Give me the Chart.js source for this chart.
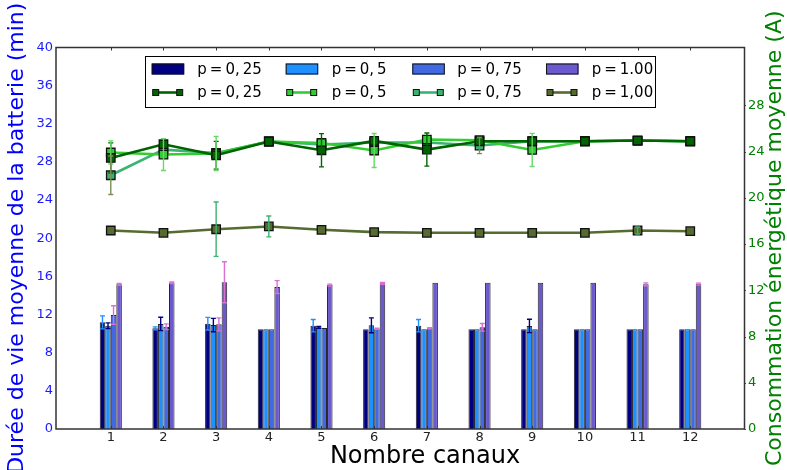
<!DOCTYPE html>
<html>
<head>
<meta charset="utf-8">
<script src="https://cdn.jsdelivr.net/npm/chart.js@4.4.1/dist/chart.umd.min.js"></script>
<style>
html,body{margin:0;padding:0;background:#fff;}
#wrap{width:787px;height:470px;position:relative;}
</style>
</head>
<body>
<div id="wrap"><canvas id="c" width="787" height="470"></canvas></div>
<script>
// ---------- DATA ----------
const canaux = [1,2,3,4,5,6,7,8,9,10,11,12];
const leftTicks = [0,4,8,12,16,20,24,28,32,36,40];
const rightTicks = [0,4,8,12,16,20,24,28];

const barLabels  = ['p\u2009=\u20090,\u200925','p\u2009=\u20090,\u20095','p\u2009=\u20090,\u200975','p\u2009=\u20091.00'];
const lineLabels = ['p\u2009=\u20090,\u200925','p\u2009=\u20090,\u20095','p\u2009=\u20090,\u200975','p\u2009=\u20091,00'];

// Durée de vie moyenne (min) – bars
const duree025 = [11.18,10.56,11.04,10.45,10.83,10.45,10.83,10.45,10.45,10.45,10.45,10.45];
const duree05  = [10.83,11.01,10.90,10.45,10.66,10.87,10.45,10.45,10.80,10.45,10.45,10.45];
const duree075 = [11.95,10.72,10.97,10.45,10.59,10.51,10.56,10.66,10.45,10.45,10.45,10.45];
const duree100 = [15.17,15.34,15.38,14.88,15.09,15.27,15.34,15.34,15.34,15.34,15.17,15.20];
const errDuree025 = [0.68,0.15,0.66,0,0.65,0,0.65,0,0,0,0,0];
const errDuree05  = [0.30,0.70,0.70,0,0.10,0.78,0,0,0.70,0,0,0];
const errDuree075 = [0.98,0.30,0.68,0,0,0.05,0.05,0.40,0,0,0,0];
const errDuree100 = [0.10,0.08,2.15,0.68,0.10,0.10,0,0,0,0,0.15,0.10];

// Consommation énergétique moyenne (A) – lines
const conso025 = [23.45,24.63,23.68,24.87,24.11,24.92,24.17,24.89,24.89,24.89,24.95,24.89];
const conso05  = [23.92,23.74,23.83,24.87,24.74,24.09,25.04,24.98,24.14,24.89,24.95,24.89];
const conso075 = [21.95,24.17,23.88,24.87,24.61,24.78,24.78,24.52,24.89,24.89,24.95,24.89];
const conso100 = [17.17,16.97,17.28,17.52,17.23,17.03,16.97,16.97,16.97,16.97,17.17,17.11];
const errConso025 = [1.30,0.10,1.20,0,1.44,0,1.43,0,0,0,0,0];
const errConso05  = [1.00,1.38,1.47,0,0,1.47,0,0,1.43,0,0,0];
const errConso075 = [1.67,0,0,0,0,0,0,0.70,0,0,0,0];
const errConso100 = [0,0,2.35,0.90,0,0,0,0,0,0,0.30,0];

// ---------- STYLE ----------
const FONT = 'DejaVu Sans';
const barColors  = ['#000080','#1E90FF','#4169E1','#6A5ACD'];
const barErrCols = ['#1E90FF','#000080','#DA70D6','#DA70D6'];
const lineColors = ['#006400','#32CD32','#3CB371','#556B2F'];
const lineErrCols= ['#006400','#66D966','#7A8F5A','#3CB371'];

const pts = arr => canaux.map((x,i)=>({x:x, y:arr[i]}));

const barSeries = [duree025,duree05,duree075,duree100];
const barErrs = [errDuree025,errDuree05,errDuree075,errDuree100];
const lineSeries = [conso025,conso05,conso075,conso100];
const lineErrs = [errConso025,errConso05,errConso075,errConso100];

const datasets = [];
lineSeries.forEach((s,k)=>{
  datasets.push({
    type:'line', label:lineLabels[k], data:pts(s), yAxisID:'y2', xAxisID:'x',
    borderColor:lineColors[k], backgroundColor:lineColors[k], borderWidth:2.6,
    pointStyle:'rect', pointRadius:6, pointBorderColor:'#111', pointBorderWidth:1.3,
    pointBackgroundColor:lineColors[k], tension:0, order:0,
    errors:lineErrs[k], errorColor:lineErrCols[k]
  });
});
barSeries.forEach((s,k)=>{
  datasets.push({
    type:'bar', label:barLabels[k], data:pts(s), yAxisID:'y', xAxisID:'x',
    backgroundColor:barColors[k], borderColor:'rgba(0,0,0,0.85)', borderWidth:1,
    categoryPercentage:0.42, barPercentage:1.0, order:1,
    errors:barErrs[k], errorColor:barErrCols[k]
  });
});

const decorPlugin = {
  id:'decor',
  afterDatasetsDraw(chart){
    const ctx = chart.ctx, ca = chart.chartArea;
    ctx.save();
    ctx.beginPath(); ctx.rect(ca.left, ca.top-2, ca.right-ca.left, ca.bottom-ca.top+2); ctx.clip();
    chart.data.datasets.forEach((ds,i)=>{
      if(!ds.errors) return;
      const meta = chart.getDatasetMeta(i);
      const ys = chart.scales[meta.yAxisID];
      ctx.strokeStyle = ds.errorColor; ctx.lineWidth = 1.4;
      meta.data.forEach((el,j)=>{
        const e = ds.errors[j]; if(!e) return;
        const v = ds.data[j].y;
        const x = el.x, y1 = ys.getPixelForValue(v+e), y2 = ys.getPixelForValue(v-e);
        ctx.beginPath();
        ctx.moveTo(x,y1); ctx.lineTo(x,y2);
        ctx.moveTo(x-2.5,y1); ctx.lineTo(x+2.5,y1);
        ctx.moveTo(x-2.5,y2); ctx.lineTo(x+2.5,y2);
        ctx.stroke();
      });
    });
    ctx.restore();
  },
  afterDraw(chart){
    const ctx = chart.ctx, ca = chart.chartArea;
    const xs = chart.scales.x, y2 = chart.scales.y2;
    ctx.save();
    ctx.strokeStyle = '#333'; ctx.lineWidth = 1;
    canaux.forEach(v=>{
      const px = Math.round(xs.getPixelForValue(v))+0.5;
      ctx.beginPath();
      ctx.moveTo(px, ca.bottom); ctx.lineTo(px, ca.bottom-3);
      ctx.moveTo(px, ca.top); ctx.lineTo(px, ca.top+3);
      ctx.stroke();
    });
    ctx.strokeStyle = '#008000';
    rightTicks.forEach(v=>{
      const py = Math.round(y2.getPixelForValue(v))+0.5;
      ctx.beginPath(); ctx.moveTo(ca.right, py); ctx.lineTo(ca.right+1.5, py); ctx.stroke();
    });
    ctx.strokeStyle = '#333'; ctx.lineWidth = 1.5;
    ctx.strokeRect(ca.left, ca.top, ca.right-ca.left, ca.bottom-ca.top);

    const cy = (ca.top+ca.bottom)/2;
    ctx.textAlign = 'center'; ctx.textBaseline = 'middle';
    ctx.font = '22px "' + FONT + '"';
    ctx.fillStyle = '#0000ff';
    ctx.save(); ctx.translate(17, cy); ctx.rotate(-Math.PI/2);
    ctx.fillText('Durée de vie moyenne de la batterie (min)', 0, 0); ctx.restore();
    ctx.fillStyle = '#008000';
    ctx.save(); ctx.translate(775, cy); ctx.rotate(-Math.PI/2);
    ctx.fillText('Consommation énergétique moyenne (A)', 0, 0); ctx.restore();
    ctx.fillStyle = '#000';
    ctx.font = '24px "' + FONT + '"';
    ctx.fillText('Nombre canaux', 425, 457);

    const L = 145.5, T = 56.5, W = 510, H = 51;
    ctx.fillStyle = '#fff'; ctx.fillRect(L, T, W, H);
    ctx.strokeStyle = '#000'; ctx.lineWidth = 1; ctx.strokeRect(L, T, W, H);
    const patchX = [151.7, 285.7, 412.3, 546];
    const textX  = [197.3, 331.7, 457.3, 591.7];
    const row1 = 69, row2 = 92.5;
    ctx.font = '15px "' + FONT + '"';
    ctx.textAlign = 'left';
    for(let k=0;k<4;k++){
      ctx.fillStyle = barColors[k];
      ctx.fillRect(patchX[k], row1-5.5, 32.5, 11);
      ctx.strokeStyle = '#111'; ctx.lineWidth = 1;
      ctx.strokeRect(patchX[k]+0.5, row1-5.5+0.5, 31.5, 10);
      ctx.fillStyle = '#000';
      ctx.fillText(barLabels[k], textX[k], row1+1);
      ctx.strokeStyle = lineColors[k]; ctx.lineWidth = 2.6;
      ctx.beginPath(); ctx.moveTo(patchX[k]+4, row2); ctx.lineTo(patchX[k]+28, row2); ctx.stroke();
      [patchX[k]+4, patchX[k]+28].forEach(mx=>{
        ctx.fillStyle = lineColors[k]; ctx.fillRect(mx-3, row2-3, 6, 6);
        ctx.strokeStyle = '#111'; ctx.lineWidth = 1; ctx.strokeRect(mx-3, row2-3, 6, 6);
      });
      ctx.fillStyle = '#000';
      ctx.fillText(lineLabels[k], textX[k], row2+1);
    }
    ctx.restore();
  }
};

const tickFont = {family:FONT, size:13};
new Chart(document.getElementById('c'), {
  type:'bar',
  data:{datasets:datasets},
  options:{
    responsive:false, animation:false,
    layout:{padding:{top:47.5, left:0, right:0, bottom:0}},
    plugins:{legend:{display:false}, tooltip:{enabled:false}, title:{display:false}},
    scales:{
      x:{type:'linear', position:'bottom', min:-0.04, max:13.03, offset:false,
         grid:{display:false, drawTicks:false}, border:{display:false},
         afterBuildTicks:s=>{ s.ticks = canaux.map(v=>({value:v})); },
         ticks:{font:tickFont, color:'#222', padding:1, maxRotation:0, autoSkip:false,
                callback:v=>String(v)},
         afterFit:s=>{ s.height = 41; }},
      y:{type:'linear', position:'left', min:0, max:40,
         grid:{display:false, drawTicks:false}, border:{display:false},
         afterBuildTicks:s=>{ s.ticks = leftTicks.map(v=>({value:v})); },
         ticks:{font:tickFont, color:'#1a1aff', padding:3, callback:v=>String(v)},
         afterFit:s=>{ s.width = 56; }},
      y2:{type:'linear', position:'right', min:0, max:33,
         grid:{display:false, drawTicks:false}, border:{display:false},
         afterBuildTicks:s=>{ s.ticks = rightTicks.map(v=>({value:v})); },
         ticks:{font:tickFont, color:'#008000', padding:3.5, callback:v=>String(v)},
         afterFit:s=>{ s.width = 42.5; }}
    }
  },
  plugins:[decorPlugin]
});
</script>
</body>
</html>
